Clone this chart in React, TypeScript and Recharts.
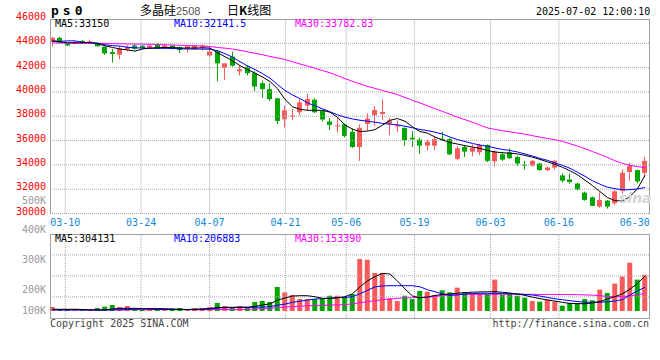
import React from "react";
import { ComposedChart, Bar, Line, XAxis, YAxis, ReferenceLine, Cell } from "recharts";

const MONO = "'DejaVu Sans Mono', 'Liberation Mono', monospace";
const CJK = "'Noto Sans CJK SC', 'Noto Sans', sans-serif";
const UP = "#f65a5a";
const DOWN = "#00a600";
const GRID = "#a8a8a8";
const FRAME = "#a0a0a0";
const DATE_BLUE = "#1589d6";

// daily bars 2025-03-06 .. 2025-07-02
const opens = [
  44100, 44450, 43980, 43950, 44200, 44050, 44000, 43720, 43280, 43060,
  43500, 43820, 43800, 43650, 43900, 43650, 43820, 43700, 43600, 43550,
  43650, 43000, 43330, 41980, 42900, 41700, 42080, 41540, 40720, 40230,
  39470, 37750, 37950, 38330, 38870, 39360, 38430, 37570, 37220, 37330,
  36720, 35470, 37370, 38080, 38190, 37380, 37160, 37040, 36240, 36070,
  35580, 35580, 36150, 36120, 34490, 35470, 35090, 35040, 35630, 34300,
  34870, 35040, 34650, 34020, 33940, 34110, 33570, 33780, 33130, 32800,
  32460, 31720, 31330, 30570, 31060, 30840, 31860, 33410, 33570, 33350,
];
const closes = [
  44450, 44050, 43820, 44100, 44000, 44150, 43750, 43170, 43120, 43580,
  43700, 43550, 43600, 43820, 43600, 43820, 43550, 43450, 43750, 43820,
  43820, 43330, 42350, 42350, 42160, 41860, 41540, 40450, 40230, 39410,
  37620, 38490, 38060, 39140, 39410, 38330, 37730, 37290, 37250, 36370,
  35470, 37050, 37810, 38510, 38350, 37650, 37270, 36020, 36100, 35580,
  35900, 36120, 36100, 34870, 35360, 35090, 35410, 35630, 34330, 35090,
  34430, 34550, 34110, 33980, 34330, 33570, 33780, 34330, 32700, 32590,
  31980, 31120, 30630, 31120, 30570, 31820, 33350, 33900, 32640, 34330,
];
const highs = [
  44550, 44550, 44050, 44200, 44280, 44300, 44050, 43750, 43550, 43750,
  43850, 43950, 43850, 43900, 44000, 43900, 43850, 43750, 43800, 43850,
  43900, 43700, 43450, 42350, 43300, 42140, 42190, 41700, 40940, 40720,
  39500, 38870, 38600, 39410, 39850, 39470, 38500, 37840, 37900, 37400,
  37000, 37320, 38240, 38840, 39390, 37860, 37650, 37100, 36780, 36230,
  36070, 36290, 36720, 36200, 35530, 35630, 35690, 35740, 35690, 35200,
  35090, 35360, 34760, 34330, 34420, 34170, 33860, 34420, 33290, 33290,
  32540, 31800, 31400, 31720, 31100, 31950, 33640, 34160, 33620, 34660,
];
const lows = [
  43750, 44000, 43780, 43900, 43980, 43950, 43720, 43050, 42420, 42680,
  43350, 43500, 43550, 43600, 43550, 43600, 43500, 43200, 43250, 43500,
  43400, 42840, 40880, 41000, 42080, 41370, 41370, 40070, 39530, 39250,
  37350, 37080, 37670, 38060, 38430, 38270, 37570, 36860, 36650, 36260,
  35400, 34330, 36780, 37210, 37700, 36450, 36670, 35580, 35470, 34920,
  35200, 35200, 35960, 34800, 34380, 34650, 34710, 34810, 34220, 33840,
  34330, 34500, 33940, 33620, 33860, 33520, 33490, 33620, 32540, 32460,
  31900, 31060, 30600, 30470, 30400, 30680, 31650, 32700, 32480, 32960,
];
const ma5 = [
  44200, 44120, 44040, 44040, 44040, 44080, 43960, 43800, 43660, 43530,
  43450, 43360, 43530, 43610, 43630, 43660, 43660, 43610, 43610, 43610,
  43630, 43610, 43220, 42900, 42570, 42160, 41840, 41550, 41230, 40860,
  40260, 39390, 38780, 38570, 38490, 38490, 38490, 38330, 37920, 37270,
  36940, 36740, 36780, 36900, 37270, 37670, 37810, 37590, 37130, 36740,
  36610, 36290, 36040, 35840, 35710, 35580, 35470, 35350, 35180, 35060,
  35000, 34960, 34900, 34780, 34630, 34450, 34250, 34040, 33800, 33510,
  33180, 32740, 32290, 31800, 31310, 31060, 31020, 31390, 32040, 33140,
];
const ma10 = [
  44200, 44160, 44200, 44200, 44080, 44040, 44015, 43880, 43810, 43770,
  43670, 43630, 43610, 43590, 43590, 43590, 43575, 43550, 43535, 43525,
  43525, 43510, 43390, 43140, 42860, 42490, 42140, 41840, 41510, 41140,
  40610, 40120, 39750, 39450, 39100, 38860, 38610, 38370, 38120, 37920,
  37780, 37670, 37590, 37510, 37410, 37350, 37290, 37180, 37050, 36910,
  36820, 36690, 36530, 36290, 36080, 35920, 35760, 35630, 35530, 35390,
  35270, 35180, 35060, 34900, 34730, 34530, 34370, 34160, 33960, 33720,
  33390, 33060, 32690, 32410, 32160, 32040, 31960, 31960, 32020, 32140,
];
const ma30 = [
  44040, 44030, 44020, 44015, 44010, 44000, 44000, 43990, 43975, 43960,
  43950, 43940, 43930, 43920, 43900, 43880, 43860, 43840, 43820, 43800,
  43780, 43730, 43660, 43600, 43530, 43420, 43300, 43180, 43060, 42920,
  42800, 42670, 42480, 42300, 42130, 41940, 41760, 41570, 41340, 41100,
  40870, 40660, 40460, 40290, 40120, 39960, 39780, 39540, 39300, 39100,
  38850, 38620, 38400, 38160, 37920, 37720, 37500, 37270, 37040, 36920,
  36810, 36720, 36620, 36520, 36400, 36280, 36170, 36070, 35930, 35740,
  35540, 35330, 35100, 34860, 34610, 34340, 34120, 33960, 33855, 33780,
];
// volume in thousands of lots
const volumeK = [
  35, 15, 15, 15, 9, 9, 26, 38, 52, 35,
  43, 23, 15, 26, 23, 17, 20, 26, 15, 26,
  26, 35, 70, 43, 32, 43, 32, 78, 87, 78,
  209, 162, 139, 104, 104, 104, 104, 133, 133, 122,
  148, 452, 446, 331, 331, 110, 87, 133, 104, 174,
  168, 139, 180, 162, 203, 162, 151, 151, 151, 273,
  139, 151, 133, 116, 87, 81, 99, 81, 46, 70,
  70, 104, 93, 186, 157, 238, 300, 420, 273, 315,
];
const volMa5 = [
  15, 15, 15, 15, 13, 9, 8, 10, 18, 22,
  23, 23, 20, 17, 15, 15, 14, 14, 13, 15,
  18, 22, 30, 32, 32, 33, 33, 40, 52, 62,
  95, 113, 130, 133, 133, 124, 110, 108, 115, 124,
  150, 210, 262, 300, 327, 322, 260, 192, 130, 115,
  122, 135, 144, 148, 155, 160, 164, 166, 167, 168,
  163, 156, 148, 136, 120, 108, 96, 86, 75, 66,
  64, 63, 70, 82, 105, 125, 150, 190, 240, 304,
];
const volMa10 = [
  9, 9, 9, 9, 9, 9, 9, 9, 9, 10,
  12, 15, 18, 20, 22, 20, 17, 14, 12, 11,
  12, 18, 25, 28, 30, 31, 32, 32, 34, 38,
  50, 60, 75, 85, 95, 104, 108, 112, 116, 118,
  125, 150, 180, 210, 218, 220, 220, 220, 220, 210,
  185, 168, 148, 136, 140, 148, 152, 154, 154, 154,
  152, 150, 148, 144, 139, 130, 118, 106, 98, 90,
  82, 77, 76, 76, 80, 87, 100, 139, 175, 207,
];
const volMa30 = [
  11, 11, 11, 11, 11, 11, 11, 11, 11, 11,
  11, 12, 12, 12, 13, 13, 13, 13, 13, 13,
  13, 13, 13, 13, 13, 13, 14, 17, 20, 24,
  30, 34, 38, 42, 45, 48, 50, 52, 53, 55,
  62, 72, 80, 90, 98, 104, 110, 114, 116, 117,
  120, 126, 134, 140, 143, 144, 145, 145, 146, 146,
  146, 146, 146, 145, 145, 144, 144, 144, 144, 143,
  142, 140, 138, 133, 126, 124, 126, 132, 142, 153,
];

const tickDates = ["03-10", "03-24", "04-07", "04-21", "05-06", "05-19", "06-03", "06-16", "06-30"];
const tickDayIndex = [2, 12, 21, 31, 39, 48, 58, 67, 77];
const priceTicks = [30000, 32000, 34000, 36000, 38000, 40000, 42000, 44000, 46000];
const priceGrid = [30000, 32000, 34000, 36000, 38000, 40000, 42000, 44000];
const volLabels = ["500K", "400K", "300K", "200K", "100K"];
const volLabelBaseline = [204, 233, 263, 293, 314];

const N = opens.length;
const rows = opens.map((o, i) => ({
  x: i + 1 / 3,
  open: o,
  close: closes[i],
  high: highs[i],
  low: lows[i],
  range: [lows[i], highs[i]],
  ma5: ma5[i],
  ma10: ma10[i],
  ma30: ma30[i],
  vol: volumeK[i],
  vma5: volMa5[i],
  vma10: volMa10[i],
  vma30: volMa30[i],
}));

// sina spreads its date gridlines over N-1 slots while candles use N
const gridX = tickDayIndex.map((d) => (d * N) / (N - 1));

function Candle(props: any) {
  const { x, y, width, height, payload } = props;
  if (x == null || y == null || !payload) return null;
  const { open, close, high, low } = payload;
  const color = close >= open ? UP : DOWN;
  const k = high > low ? height / (high - low) : 0;
  const yOf = (v: number) => y + (high - v) * k;
  const top = yOf(Math.max(open, close));
  const bot = yOf(Math.min(open, close));
  const x0 = Math.round(x + width / 2 - 2.5);
  return (
    <g>
      <line x1={x0 + 2.5} x2={x0 + 2.5} y1={y} y2={y + height} stroke={color} strokeWidth={1} />
      <rect x={x0} y={top} width={5} height={Math.max(1, bot - top)} fill={color} />
    </g>
  );
}

const PriceTick = (p: any) => (
  <text x={p.x} y={p.y + 1} textAnchor="end" fill="#ff0000" fontSize={10} fontFamily={MONO}>
    {p.payload.value}
  </text>
);

const DateTick = (p: any) => (
  <text x={p.x} y={p.y + 12.5} textAnchor="middle" fill={DATE_BLUE} fontSize={10} fontFamily={MONO}>
    {tickDates[p.index]}
  </text>
);

export default function App() {
  return (
    <div style={{ position: "absolute", left: 0, top: 0, width: 660, height: 360, background: "#fff", overflow: "hidden" }}>
      <div style={{ position: "absolute", left: 0, top: 0 }}>
        <ComposedChart width={660} height={228} data={rows} margin={{ top: 19, right: 10, bottom: 0, left: 0 }}>
          <XAxis
            type="number"
            dataKey="x"
            domain={[0, N]}
            ticks={gridX}
            interval={0}
            axisLine={false}
            tickLine={false}
            tickSize={0}
            tickMargin={0}
            height={14.5}
            tick={<DateTick />}
          />
          <YAxis
            type="number"
            domain={[30000, 46000]}
            ticks={priceTicks}
            interval={0}
            width={50}
            axisLine={false}
            tickLine={false}
            tickSize={0}
            tickMargin={4}
            tick={<PriceTick />}
          />
          {priceGrid.map((v) => (
            <ReferenceLine key={"h" + v} y={v} stroke={GRID} strokeDasharray="1 1" />
          ))}
          {gridX.slice(0, -1).map((v) => (
            <ReferenceLine key={"v" + v} x={v} stroke={GRID} strokeDasharray="1 1" />
          ))}
          <Bar dataKey="range" barSize={5} shape={(p: any) => <Candle {...p} />} isAnimationActive={false} />
          <Line type="linear" dataKey="ma30" stroke="#ff00ff" strokeWidth={1} dot={false} isAnimationActive={false} />
          <Line type="linear" dataKey="ma10" stroke="#0000ff" strokeWidth={1} dot={false} isAnimationActive={false} />
          <Line type="linear" dataKey="ma5" stroke="#000000" strokeWidth={1} dot={false} isAnimationActive={false} />
        </ComposedChart>
      </div>

      <div style={{ position: "absolute", left: 0, top: 228 }}>
        <ComposedChart width={660} height={92} data={rows} margin={{ top: 6, right: 10, bottom: 2, left: 50 }}>
          <XAxis type="number" dataKey="x" domain={[0, N]} hide />
          <YAxis type="number" domain={[-61, 670]} hide />
          {[122.75, 305.5, 488.25].map((v) => (
            <ReferenceLine key={"vh" + v} y={v} stroke={GRID} strokeDasharray="1 1" />
          ))}
          {gridX.slice(0, -1).map((v) => (
            <ReferenceLine key={"vv" + v} x={v} stroke={GRID} strokeDasharray="1 1" />
          ))}
          <Bar dataKey="vol" barSize={5} isAnimationActive={false}>
            {rows.map((r, i) => (
              <Cell key={i} fill={r.close >= r.open ? UP : DOWN} />
            ))}
          </Bar>
          <Line type="linear" dataKey="vma30" stroke="#ff00ff" strokeWidth={1} dot={false} isAnimationActive={false} />
          <Line type="linear" dataKey="vma10" stroke="#0000ff" strokeWidth={1} dot={false} isAnimationActive={false} />
          <Line type="linear" dataKey="vma5" stroke="#000000" strokeWidth={1} dot={false} isAnimationActive={false} />
        </ComposedChart>
      </div>

      {/* panel frames */}
      <div style={{ position: "absolute", left: 50, top: 19, width: 600, height: 195, boxSizing: "border-box", borderTop: `1px solid ${FRAME}`, borderLeft: `1px solid ${FRAME}`, borderRight: `1px solid ${FRAME}` }} />
      <div style={{ position: "absolute", left: 50, top: 234, width: 600, height: 85, boxSizing: "border-box", border: `1px solid ${FRAME}` }} />

      <svg width={660} height={360} style={{ position: "absolute", left: 0, top: 0, pointerEvents: "none" }}>
        <text x={51} y={14.5} fontFamily={MONO} fontWeight="bold" fontSize={13} letterSpacing={4} fill="#000">ps0</text>
        <text x={140} y={14.5} fontFamily={CJK} fontSize={12} fill="#000">多晶硅</text>
        <text x={176} y={14.5} fontFamily="'Liberation Sans', sans-serif" fontSize={11} fill="#555">2508</text>
        <text x={207} y={14.5} fontFamily={MONO} fontSize={10} fill="#000">-</text>
        <text x={227} y={14.5} fontFamily={CJK} fontSize={12} fill="#000">
          日<tspan fontWeight="bold">K</tspan>线图
        </text>
        <text x={536} y={15} fontFamily={MONO} fontSize={10} fill="#000">2025-07-02 12:00:10</text>

        <text x={55} y={27} fontFamily={MONO} fontSize={10} fill="#000">MA5:33150</text>
        <text x={174} y={27} fontFamily={MONO} fontSize={10} fill="#0000ff">MA10:32141.5</text>
        <text x={295} y={27} fontFamily={MONO} fontSize={10} fill="#ff00ff">MA30:33782.83</text>

        <text x={55} y={242} fontFamily={MONO} fontSize={10} fill="#000">MA5:304131</text>
        <text x={174} y={242} fontFamily={MONO} fontSize={10} fill="#0000ff">MA10:206883</text>
        <text x={295} y={242} fontFamily={MONO} fontSize={10} fill="#ff00ff">MA30:153390</text>

        {volLabels.map((t, i) => (
          <text key={t} x={46} y={volLabelBaseline[i]} textAnchor="end" fontFamily={MONO} fontSize={10} fill="#999">
            {t}
          </text>
        ))}

        <text x={619} y={203} fontFamily="'DejaVu Sans', sans-serif" fontStyle="italic" fontWeight="bold" fontSize={14} fill="#d4d4d4">sina</text>

        <text x={50} y={327} fontFamily={MONO} fontSize={10} fill="#444">Copyright 2025 SINA.COM</text>
        <text x={649} y={327} textAnchor="end" fontFamily={MONO} fontSize={10} fill="#444">http://finance.sina.com.cn</text>
      </svg>
    </div>
  );
}
